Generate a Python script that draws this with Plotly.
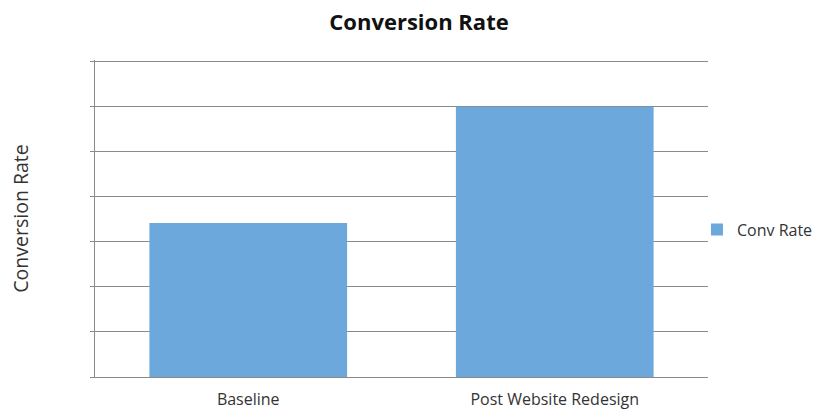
import plotly.graph_objects as go

# Conversion rate before and after the site redesign
categories = ["Baseline", "Post Website Redesign"]
conv_rate = [0.0342, 0.06]
series_name = "Conv Rate"

BAR_COLOR = "#6CA8DC"
GRID_COLOR = "#8A8A8A"
FONT = "Open Sans, Noto Sans, sans-serif"

fig = go.Figure(
    go.Bar(
        x=categories,
        y=conv_rate,
        name=series_name,
        marker=dict(color=BAR_COLOR, line=dict(width=0)),
        width=0.645,
        showlegend=True,
    )
)

fig.update_layout(
    width=838,
    height=411,
    margin=dict(l=95, r=130, t=60, b=34),
    paper_bgcolor="white",
    plot_bgcolor="white",
    font=dict(family=FONT, size=15, color="#333333"),
    title=dict(
        text="<b>Conversion Rate</b>",
        x=0.5,
        xanchor="center",
        y=0.945,
        yanchor="middle",
        font=dict(family=FONT, size=22, color="#111111"),
    ),
    legend=dict(
        x=0.982,
        xanchor="left",
        y=0.465,
        yanchor="middle",
        font=dict(size=16, color="#333333"),
        bgcolor="rgba(0,0,0,0)",
        itemwidth=30,
    ),
    bargap=0.35,
)

fig.update_xaxes(
    showline=True,
    linecolor=GRID_COLOR,
    linewidth=1,
    showgrid=False,
    ticks="",
    ticklabelstandoff=8,
    tickfont=dict(size=16, color="#333333"),
    automargin=False,
)

fig.update_yaxes(
    range=[0, 0.0704],
    dtick=0.01,
    showgrid=True,
    gridcolor=GRID_COLOR,
    gridwidth=1,
    showline=True,
    linecolor=GRID_COLOR,
    linewidth=1,
    ticks="outside",
    ticklen=4,
    tickcolor=GRID_COLOR,
    showticklabels=False,
    zeroline=False,
    title=dict(
        text="Conversion Rate",
        font=dict(size=19.5, color="#333333"),
        standoff=56,
    ),
    automargin=False,
)

fig.write_html("out.html")
